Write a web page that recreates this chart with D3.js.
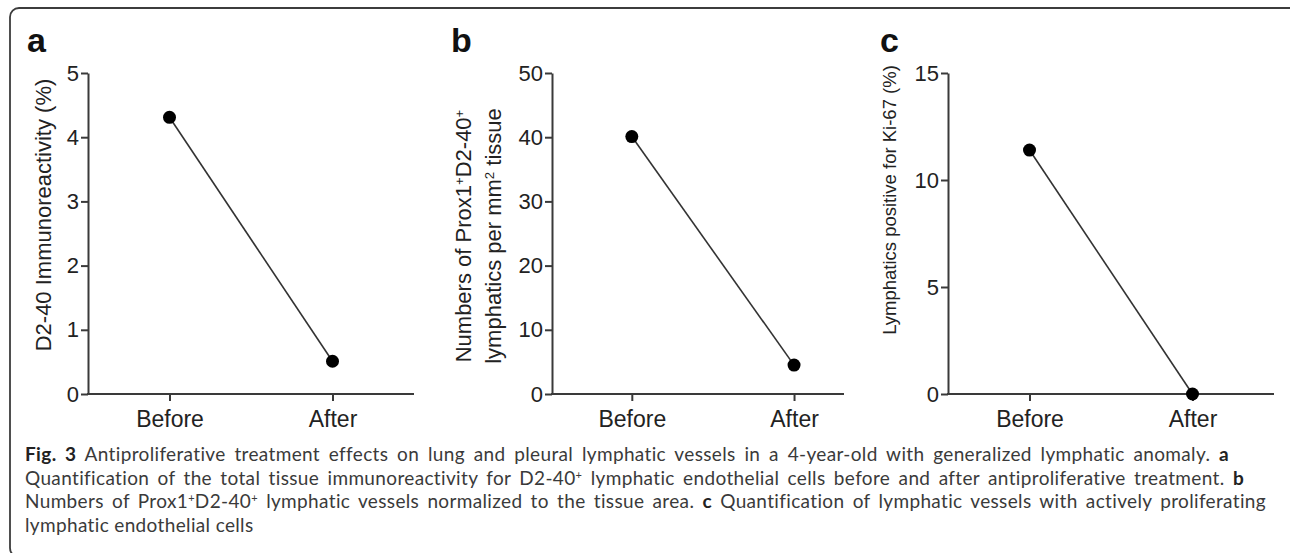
<!DOCTYPE html>
<html>
<head>
<meta charset="utf-8">
<script src="https://cdn.jsdelivr.net/npm/d3@7"></script>
<style>
  body { margin: 0; background: #fff; }
  svg { display: block; }
  .caption { font-variant-ligatures: none; }
</style>
</head>
<body>
<svg id="fig" width="1290" height="553"></svg>
<script>
// values
const categories = ["Before", "After"];
const d2Values = [4.31, 0.51];
const proxValues = [40.1, 4.5];
const ki67Values = [11.4, 0];

const d2Ticks = [0, 1, 2, 3, 4, 5];
const proxTicks = [0, 10, 20, 30, 40, 50];
const ki67Ticks = [0, 5, 10, 15];

const panelLetters = ["a", "b", "c"];

// label pieces: [text, isSuperscript]
const d2Label = [[["D2-40 Immunoreactivity (%)", false]]];
const proxLabel = [
  [["Numbers of Prox1", false], ["+", true], ["D2-40", false], ["+", true]],
  [["lymphatics per mm", false], ["2", true], [" tissue", false]]
];
const ki67Label = [[["Lymphatics positive for Ki-67 (%)", false]]];

// caption pieces: [text, style] style: "" | "b" | "sup"
const captionLines = [
  [["Fig. 3", "b"], [" Antiproliferative treatment effects on lung and pleural lymphatic vessels in a 4-year-old with generalized lymphatic anomaly. ", ""], ["a", "b"]],
  [["Quantification of the total tissue immunoreactivity for D2-40", ""], ["+", "sup"], [" lymphatic endothelial cells before and after antiproliferative treatment. ", ""], ["b", "b"]],
  [["Numbers of Prox1", ""], ["+", "sup"], ["D2-40", ""], ["+", "sup"], [" lymphatic vessels normalized to the tissue area. ", ""], ["c", "b"], [" Quantification of lymphatic vessels with actively proliferating", ""]],
  [["lymphatic endothelial cells", ""]]
];

const svg = d3.select("#fig");
const ink = "#222";
const axisInk = "#3a3a3a";
const chartFont = "Liberation Sans, Arimo, Arial, sans-serif";

// frame
svg.append("rect")
  .attr("x", 10).attr("y", 8)
  .attr("width", 1295).attr("height", 549)
  .attr("rx", 9)
  .attr("fill", "none")
  .attr("stroke", "#3c3c3c")
  .attr("stroke-width", 1.8);

const yTop = 73, yBottom = 394;

const panels = [
  { values: d2Values, ticks: d2Ticks, label: d2Label, lx: 27, ax: 88, ar: 414, pad: 0.5, align: 0.5, labelX: [43], labelY: 215, labelSize: 22 },
  { values: proxValues, ticks: proxTicks, label: proxLabel, lx: 451, ax: 552, ar: 844, pad: 0.4, align: 0.615, labelX: [463, 493], labelY: 236, labelSize: 22 },
  { values: ki67Values, ticks: ki67Ticks, label: ki67Label, lx: 880, ax: 948, ar: 1274, pad: 0.5, align: 0.5, labelX: [890], labelY: 200, labelSize: 18.5 }
];

panels.forEach((p, i) => {
  const g = svg.append("g");

  const x = d3.scalePoint()
    .domain(categories)
    .range([p.ax, p.ar])
    .padding(p.pad)
    .align(p.align);

  const y = d3.scaleLinear()
    .domain([0, d3.max(p.ticks)])
    .range([yBottom, yTop]);

  // panel letter
  g.append("text")
    .attr("x", p.lx).attr("y", 52)
    .attr("font-family", chartFont)
    .attr("font-weight", "bold")
    .attr("font-size", 34)
    .attr("fill", "#111")
    .text(panelLetters[i]);

  // y axis
  const yAxis = g.append("g")
    .attr("transform", `translate(${p.ax},0)`)
    .call(d3.axisLeft(y).tickValues(p.ticks).tickFormat(d3.format("d"))
      .tickSize(7).tickSizeOuter(0).tickPadding(2));

  // x axis
  const xAxis = g.append("g")
    .attr("transform", `translate(0,${yBottom})`)
    .call(d3.axisBottom(x).tickSize(7).tickSizeOuter(0).tickPadding(10));
  xAxis.select(".domain").remove();
  g.append("line")
    .attr("x1", p.ax - 1).attr("x2", p.ar)
    .attr("y1", yBottom).attr("y2", yBottom)
    .attr("stroke", axisInk).attr("stroke-width", 2);

  [yAxis, xAxis].forEach(a => {
    a.attr("font-family", chartFont);
    a.selectAll(".domain").attr("stroke", axisInk).attr("stroke-width", 2);
    a.selectAll(".tick line").attr("stroke", axisInk).attr("stroke-width", 2);
    a.selectAll(".tick text").attr("fill", ink);
  });
  yAxis.attr("font-size", 22);
  xAxis.attr("font-size", 23);

  // y label
  p.label.forEach((line, li) => {
    const t = g.append("text")
      .attr("transform", `translate(${p.labelX[li]},${p.labelY}) rotate(-90)`)
      .attr("text-anchor", "middle")
      .attr("dy", "0.35em")
      .attr("font-family", chartFont)
      .attr("font-size", p.labelSize)
      .attr("fill", ink);
    line.forEach(([txt, sup]) => {
      const s = t.append("tspan").text(txt);
      if (sup) s.attr("baseline-shift", "super").attr("font-size", "60%");
    });
  });

  // connecting line and points
  const pts = categories.map((c, k) => ({ c, v: p.values[k] }));
  const line = d3.line().x(d => x(d.c)).y(d => y(d.v));
  g.append("path")
    .attr("d", line(pts))
    .attr("fill", "none")
    .attr("stroke", "#333")
    .attr("stroke-width", 1.6);

  g.selectAll("circle.pt")
    .data(pts)
    .join("circle")
    .attr("class", "pt")
    .attr("cx", d => x(d.c))
    .attr("cy", d => y(d.v))
    .attr("r", 6.5)
    .attr("fill", "#000");
});

// caption
const capFont = "Lato, Open Sans, sans-serif";
const capX = 25;
const capBase = [461, 484.5, 508, 531.5];
const capEnd = [1229, 1244, 1266, null];

captionLines.forEach((parts, li) => {
  const t = svg.append("text")
    .attr("class", "caption")
    .attr("x", capX).attr("y", capBase[li])
    .attr("font-family", capFont)
    .attr("font-size", 19)
    .attr("letter-spacing", 0.35)
    .attr("fill", "#3a3a3a");
  let prevSup = false;
  parts.forEach(([txt, style]) => {
    const s = t.append("tspan").text(txt);
    if (style === "b") s.attr("font-weight", "bold").attr("fill", "#222");
    if (style === "sup") s.attr("dy", -6).attr("font-size", 11);
    else if (prevSup) s.attr("dy", 6);
    prevSup = style === "sup";
  });
  if (capEnd[li]) {
    const natural = t.node().getComputedTextLength();
    const spaces = parts.map(d => d[0]).join("").split(" ").length - 1;
    const ws = (capEnd[li] - capX - natural) / spaces;
    t.attr("word-spacing", ws);
  }
});
</script>
</body>
</html>
